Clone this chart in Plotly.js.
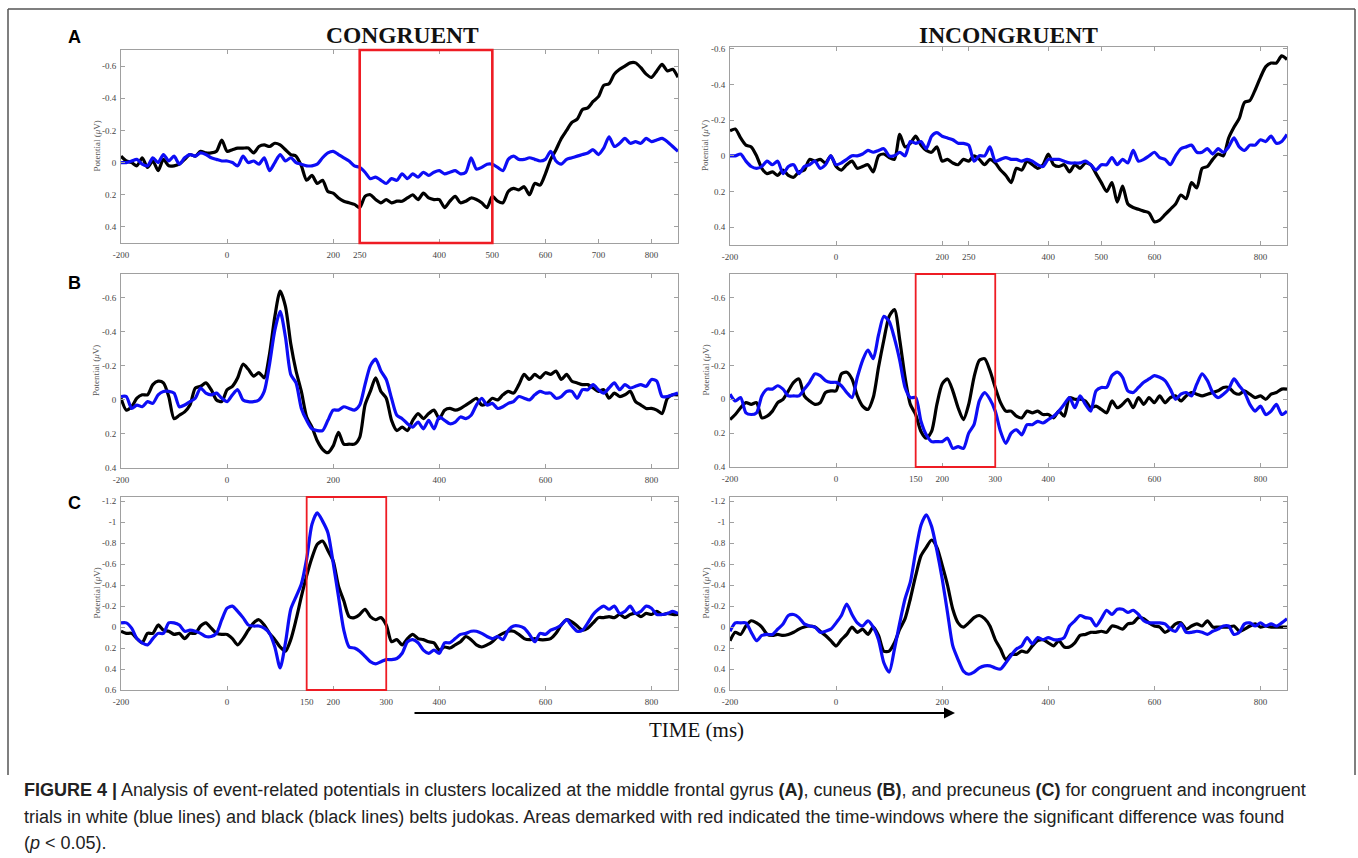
<!DOCTYPE html>
<html>
<head>
<meta charset="utf-8">
<script src="https://cdn.plot.ly/plotly-3.0.1.min.js"></script>
<style>
html,body{margin:0;padding:0;background:#fff;}
#chart{width:1358px;height:858px;}
</style>
</head>
<body>
<div id="chart"></div>
<script>
// ---- data ----
const timeMs = [-200,-190,-180,-170,-160,-150,-140,-130,-120,-110,
 -100,-90,-80,-70,-60,-50,-40,-30,-20,-10,
 0,10,20,30,40,50,60,70,80,90,
 100,110,120,130,140,150,160,170,180,190,
 200,210,220,230,240,250,260,270,280,290,
 300,310,320,330,340,350,360,370,380,390,
 400,410,420,430,440,450,460,470,480,490,
 500,510,520,530,540,550,560,570,580,590,
 600,610,620,630,640,650,660,670,680,690,
 700,710,720,730,740,750,760,770,780,790,
 800,810,820,830,840,850];

// A: middle frontal gyrus
const congA_black = [-0.04,-0.01,0.0,0.02,-0.03,0.03,-0.01,0.05,-0.02,0.02,
 0.02,0.01,-0.02,-0.05,-0.04,-0.07,-0.06,-0.06,-0.07,-0.14,
 -0.07,-0.08,-0.09,-0.09,-0.09,-0.06,-0.1,-0.11,-0.1,-0.12,
 -0.11,-0.08,-0.05,-0.04,0.02,0.11,0.08,0.13,0.11,0.18,
 0.19,0.22,0.24,0.25,0.26,0.28,0.21,0.20,0.23,0.25,
 0.23,0.25,0.24,0.24,0.22,0.20,0.23,0.19,0.22,0.23,
 0.23,0.28,0.24,0.21,0.25,0.24,0.22,0.23,0.25,0.28,
 0.21,0.24,0.25,0.18,0.16,0.17,0.15,0.20,0.13,0.14,
 0.07,-0.02,-0.08,-0.15,-0.20,-0.25,-0.27,-0.33,-0.34,-0.38,
 -0.41,-0.48,-0.49,-0.55,-0.58,-0.60,-0.62,-0.62,-0.59,-0.55,
 -0.53,-0.57,-0.61,-0.57,-0.58,-0.53];
const congA_blue = [0.0,0.0,-0.01,-0.02,0.01,0.02,-0.03,0.0,-0.05,-0.01,
 -0.04,0.01,-0.03,-0.05,-0.04,-0.06,-0.05,-0.03,-0.02,-0.01,
 -0.01,0.0,0.02,-0.04,0.0,-0.01,0.01,-0.03,0.05,0.0,
 -0.05,-0.01,-0.03,0.0,0.01,0.02,0.02,0.01,-0.03,-0.06,
 -0.07,-0.05,-0.03,-0.01,0.02,0.03,0.06,0.10,0.09,0.11,
 0.13,0.10,0.11,0.07,0.10,0.07,0.09,0.06,0.08,0.06,
 0.05,0.07,0.06,0.05,0.07,0.06,-0.03,0.04,0.03,0.01,
 0.01,0.03,0.05,-0.02,-0.04,-0.02,-0.02,-0.03,-0.02,-0.01,
 -0.02,-0.07,-0.01,0.01,-0.02,-0.03,-0.04,-0.05,-0.06,-0.08,
 -0.05,-0.09,-0.16,-0.10,-0.12,-0.15,-0.12,-0.13,-0.12,-0.15,
 -0.13,-0.14,-0.15,-0.13,-0.10,-0.07];
const incA_black = [-0.14,-0.15,-0.10,-0.06,-0.05,0.0,0.07,0.10,0.09,0.11,
 0.08,0.11,0.12,0.09,0.08,0.02,0.03,0.02,0.04,0.0,
 0.06,0.08,0.05,0.03,0.07,0.06,0.05,0.09,0.0,-0.01,
 0.01,0.02,-0.12,-0.05,-0.07,-0.11,-0.06,-0.03,-0.02,-0.05,
 0.03,0.02,0.04,0.05,0.02,0.03,0.0,0.02,0.05,0.02,
 0.04,0.08,0.11,0.15,0.07,0.08,0.03,0.05,0.07,0.05,
 -0.01,0.05,0.06,0.05,0.09,0.05,0.07,0.04,0.05,0.10,
 0.15,0.20,0.15,0.26,0.17,0.27,0.29,0.30,0.31,0.32,
 0.37,0.36,0.33,0.30,0.27,0.22,0.24,0.15,0.18,0.07,
 0.06,0.02,-0.01,0.0,-0.10,-0.16,-0.21,-0.30,-0.31,-0.37,
 -0.44,-0.50,-0.52,-0.52,-0.56,-0.54];
const incA_blue = [0.0,0.0,-0.01,0.03,0.06,0.07,0.06,0.03,0.05,0.03,
 0.10,0.06,0.05,0.10,0.06,0.05,0.03,0.07,0.05,0.0,
 0.05,0.04,0.02,0.0,0.0,-0.01,-0.03,-0.02,-0.03,-0.04,
 0.0,0.0,-0.02,0.0,-0.08,-0.07,-0.08,-0.04,-0.11,-0.13,
 -0.11,-0.10,-0.09,-0.07,-0.07,-0.06,0.03,0.0,0.0,-0.05,
 0.03,0.02,0.01,0.02,0.02,0.03,0.02,0.03,0.05,0.06,
 0.02,0.02,0.02,0.03,0.04,0.04,0.04,0.03,0.05,0.08,
 0.05,0.05,0.01,0.05,0.02,0.04,-0.03,0.03,0.02,0.0,
 -0.02,0.01,0.02,0.05,0.0,-0.04,-0.05,-0.06,-0.02,-0.02,
 -0.04,-0.01,-0.04,-0.02,-0.05,-0.10,-0.05,-0.03,-0.06,-0.06,
 -0.09,-0.08,-0.11,-0.07,-0.08,-0.12];

// B: cuneus
const congB_black = [-0.01,0.06,0.04,-0.01,-0.03,-0.03,-0.09,-0.11,-0.10,-0.02,
 0.11,0.09,0.07,0.03,-0.07,-0.08,-0.10,-0.06,0.0,0.01,
 -0.06,-0.08,-0.13,-0.21,-0.18,-0.14,-0.16,-0.13,-0.27,-0.49,
 -0.64,-0.55,-0.33,-0.17,-0.05,0.10,0.16,0.24,0.29,0.31,
 0.27,0.19,0.26,0.26,0.26,0.22,0.03,-0.05,-0.13,-0.05,
 -0.01,0.12,0.18,0.16,0.18,0.12,0.08,0.11,0.08,0.06,
 0.11,0.06,0.05,0.06,0.05,0.03,0.01,-0.01,0.03,0.02,
 -0.01,0.0,-0.03,-0.05,-0.04,-0.09,-0.15,-0.12,-0.15,-0.13,
 -0.16,-0.15,-0.17,-0.12,-0.15,-0.11,-0.10,-0.09,-0.09,-0.07,
 -0.05,-0.06,-0.01,-0.04,-0.02,-0.03,-0.05,0.01,0.03,0.05,
 0.05,0.06,0.08,-0.01,-0.03,-0.03];
const congB_blue = [-0.02,-0.02,0.05,0.03,0.04,0.01,0.02,-0.03,-0.05,-0.05,
 -0.04,0.04,0.03,0.01,-0.01,-0.07,-0.04,-0.03,-0.04,-0.01,
 0.01,-0.03,-0.06,0.0,0.01,0.01,0.0,-0.05,-0.21,-0.41,
 -0.52,-0.37,-0.15,-0.10,0.05,0.12,0.17,0.18,0.18,0.12,
 0.06,0.06,0.04,0.05,0.06,0.03,-0.09,-0.20,-0.24,-0.17,
 -0.12,-0.01,0.09,0.11,0.14,0.16,0.13,0.17,0.12,0.17,
 0.10,0.12,0.14,0.13,0.10,0.11,0.09,0.03,-0.01,0.03,
 0.02,0.05,0.04,0.02,0.01,-0.02,-0.01,0.0,-0.03,-0.05,
 -0.04,-0.04,-0.01,-0.02,-0.05,-0.05,-0.01,-0.06,-0.06,-0.09,
 -0.06,-0.04,-0.07,-0.10,-0.06,-0.09,-0.07,-0.08,-0.09,-0.08,
 -0.12,-0.11,-0.02,-0.02,-0.03,-0.04];
const incB_black = [0.12,0.09,0.05,0.02,0.03,0.02,0.11,0.10,0.07,0.02,
 0.0,-0.05,-0.10,-0.12,-0.02,0.01,0.03,0.02,-0.04,-0.05,
 -0.05,-0.15,-0.16,-0.12,-0.02,0.04,0.06,-0.01,-0.19,-0.35,
 -0.49,-0.53,-0.35,-0.13,0.03,0.09,0.19,0.23,0.19,0.03,
 -0.09,-0.12,-0.05,0.05,0.12,0.03,-0.13,-0.23,-0.24,-0.17,
 -0.07,0.02,0.07,0.07,0.10,0.11,0.07,0.08,0.07,0.09,
 0.09,0.11,0.07,0.10,-0.01,0.0,0.0,0.01,0.05,0.04,
 0.06,0.08,0.01,0.05,0.03,0.0,0.05,-0.01,0.03,-0.01,
 0.02,-0.02,0.02,-0.01,-0.02,0.01,-0.02,-0.04,-0.03,-0.02,
 -0.03,-0.04,-0.05,-0.07,-0.07,-0.04,-0.03,-0.05,-0.03,-0.01,
 -0.02,0.0,-0.03,-0.04,-0.06,-0.06];
const incB_blue = [-0.03,0.01,-0.01,0.08,0.09,0.08,-0.02,-0.06,-0.06,-0.08,
 -0.06,-0.02,-0.02,-0.02,-0.06,-0.10,-0.15,-0.14,-0.11,-0.10,
 -0.10,-0.08,-0.04,-0.01,-0.13,-0.23,-0.29,-0.24,-0.38,-0.49,
 -0.46,-0.36,-0.23,-0.07,-0.01,-0.01,0.13,0.21,0.25,0.25,
 0.25,0.23,0.29,0.28,0.29,0.20,0.15,0.01,-0.04,0.0,
 0.07,0.19,0.26,0.20,0.18,0.21,0.15,0.15,0.13,0.14,
 0.12,0.10,0.07,0.03,-0.01,0.05,-0.02,0.03,0.07,-0.05,
 -0.07,-0.07,-0.14,-0.16,-0.13,-0.05,-0.04,-0.07,-0.10,-0.12,
 -0.14,-0.13,-0.11,-0.06,0.0,-0.03,-0.04,-0.02,-0.09,-0.15,
 -0.11,-0.04,-0.01,-0.03,-0.06,-0.12,-0.08,-0.04,0.03,0.07,
 0.04,0.09,0.07,0.03,0.09,0.07];

// C: precuneus
const congC_black = [0.04,0.06,0.06,0.11,0.15,0.06,0.06,-0.02,0.03,0.04,
 0.07,0.06,0.11,0.06,0.06,-0.01,-0.04,0.01,0.06,0.07,
 0.07,0.11,0.17,0.11,0.03,-0.04,-0.07,-0.02,0.06,0.12,
 0.19,0.23,0.12,-0.07,-0.29,-0.49,-0.66,-0.79,-0.82,-0.73,
 -0.63,-0.39,-0.25,-0.10,-0.09,-0.12,-0.17,-0.10,-0.07,-0.09,
 -0.02,0.14,0.12,0.17,0.11,0.07,0.11,0.12,0.14,0.15,
 0.22,0.19,0.20,0.17,0.14,0.09,0.12,0.17,0.19,0.17,
 0.14,0.09,0.06,0.04,0.04,0.07,0.11,0.12,0.11,0.12,
 0.12,0.11,0.06,-0.02,-0.07,-0.05,-0.01,0.03,0.01,-0.04,
 -0.09,-0.09,-0.10,-0.09,-0.12,-0.09,-0.12,-0.13,-0.10,-0.13,
 -0.12,-0.15,-0.12,-0.13,-0.12,-0.12];
const congC_blue = [-0.04,-0.04,0.01,0.11,0.15,0.17,0.11,0.06,0.06,-0.04,
 -0.04,-0.02,0.04,0.03,0.04,0.06,0.09,0.09,0.06,-0.07,
 -0.18,-0.20,-0.15,-0.09,-0.02,-0.01,-0.01,0.01,0.06,0.19,
 0.39,0.15,-0.17,-0.29,-0.41,-0.65,-0.98,-1.09,-1.01,-0.90,
 -0.61,-0.29,0.03,0.19,0.20,0.23,0.28,0.33,0.35,0.33,
 0.31,0.31,0.30,0.25,0.14,0.12,0.15,0.22,0.25,0.22,
 0.25,0.15,0.15,0.11,0.07,0.06,0.04,0.04,0.06,0.09,
 0.11,0.09,0.12,0.03,-0.01,-0.01,0.01,0.07,0.14,0.06,
 0.07,0.03,0.01,-0.02,-0.07,-0.01,0.04,0.03,-0.04,-0.12,
 -0.17,-0.20,-0.17,-0.20,-0.13,-0.15,-0.20,-0.13,-0.15,-0.20,
 -0.18,-0.12,-0.12,-0.13,-0.15,-0.13];
const incC_black = [0.13,0.05,0.07,-0.01,-0.06,-0.04,0.0,0.07,0.08,0.07,
 0.08,0.07,0.05,0.02,0.0,-0.01,0.0,0.04,0.08,0.13,
 0.18,0.12,0.07,0.0,0.05,0.02,0.07,0.0,0.08,0.23,
 0.23,0.15,0.02,-0.08,-0.27,-0.49,-0.68,-0.76,-0.83,-0.76,
 -0.59,-0.40,-0.17,-0.04,0.0,-0.04,-0.09,-0.11,-0.08,-0.01,
 0.12,0.21,0.31,0.26,0.26,0.23,0.24,0.18,0.13,0.12,
 0.15,0.18,0.13,0.19,0.19,0.15,0.08,0.07,0.05,0.05,
 0.04,0.05,-0.01,0.0,0.02,-0.03,-0.04,-0.09,-0.08,-0.04,
 -0.01,0.0,0.05,0.02,-0.03,-0.04,0.02,-0.01,-0.03,-0.01,
 -0.06,0.0,0.0,0.0,0.0,-0.01,0.04,0.02,-0.01,-0.03,
 0.0,-0.01,0.0,0.0,0.0,0.0];
const incC_blue = [0.04,-0.04,-0.04,-0.04,0.05,0.13,0.08,0.07,0.07,0.02,
 -0.03,-0.11,-0.12,-0.09,-0.03,-0.01,0.0,0.05,0.04,0.02,
 -0.04,-0.11,-0.22,-0.12,-0.04,-0.01,-0.06,0.0,0.12,0.34,
 0.43,0.21,-0.04,-0.27,-0.43,-0.72,-0.97,-1.07,-0.96,-0.73,
 -0.46,-0.14,0.18,0.31,0.42,0.45,0.43,0.39,0.37,0.37,
 0.39,0.40,0.34,0.27,0.21,0.18,0.10,0.16,0.10,0.12,
 0.10,0.12,0.12,0.10,-0.01,-0.06,-0.11,-0.09,-0.08,-0.01,
 -0.08,-0.16,-0.12,-0.17,-0.17,-0.14,-0.16,-0.12,-0.06,-0.04,
 -0.04,-0.04,-0.03,0.02,0.04,-0.03,0.05,0.05,0.04,0.05,
 0.07,0.04,0.02,-0.01,-0.01,0.07,0.05,-0.03,-0.04,-0.01,
 -0.04,-0.01,-0.03,-0.01,-0.04,-0.08];

// tick labels
const xTicksAL = [-200,0,200,250,400,500,600,700,800];
const xTicksAR = [-200,0,200,250,400,500,600,800];
const xTicksBL = [-200,0,200,400,600,800];
const xTicksBR = [-200,0,150,200,300,400,600,800];
const xTicksCL = [-200,0,150,200,300,400,600,800];
const xTicksCR = [-200,0,200,400,600,800];
const yTicksAB = [-0.6,-0.4,-0.2,0,0.2,0.4];
const yTicksC = [-1.2,-1,-0.8,-0.6,-0.4,-0.2,0,0.2,0.4,0.6];

// significant windows (ms)
const sigWindows = [{panel:1, from:250, to:500}, {panel:4, from:150, to:300}, {panel:5, from:150, to:300}];

const columnTitles = ['CONGRUENT', 'INCONGRUENT'];
const panelLetters = ['A', 'B', 'C'];
const yTitle = 'Potential (<i>μ</i>V)';
const xTitle = 'TIME (ms)';

// ---- layout helpers ----
const W = 1358, H = 858;
const px = v => v / W;
const py = v => 1 - v / H;

const panels = [
  {black: congA_black, blue: congA_blue, xt: xTicksAL, yt: yTicksAB, yr: [0.5, -0.7],  x0: 121, x1: 678,  y0: 50,  y1: 243},
  {black: incA_black,  blue: incA_blue,  xt: xTicksAR, yt: yTicksAB, yr: [0.5, -0.61], x0: 730, x1: 1287, y0: 47,  y1: 245},
  {black: congB_black, blue: congB_blue, xt: xTicksBL, yt: yTicksAB, yr: [0.4, -0.74], x0: 121, x1: 678,  y0: 274, y1: 468},
  {black: incB_black,  blue: incB_blue,  xt: xTicksBR, yt: yTicksAB, yr: [0.4, -0.74], x0: 730, x1: 1287, y0: 274, y1: 467},
  {black: congC_black, blue: congC_blue, xt: xTicksCL, yt: yTicksC,  yr: [0.6, -1.24], x0: 121, x1: 678,  y0: 497, y1: 690},
  {black: incC_black,  blue: incC_blue,  xt: xTicksCR, yt: yTicksC,  yr: [0.6, -1.24], x0: 730, x1: 1287, y0: 497, y1: 690}
];

const fmt = v => String(v);
const traces = [];
const layout = {
  width: W, height: H,
  margin: {l: 0, r: 0, t: 0, b: 0},
  paper_bgcolor: '#ffffff', plot_bgcolor: '#ffffff',
  showlegend: false,
  font: {family: 'Liberation Serif, Times New Roman, serif', color: '#444'},
  shapes: [], annotations: []
};

panels.forEach((p, i) => {
  const n = i + 1;
  const xa = n === 1 ? 'x' : 'x' + n;
  const ya = n === 1 ? 'y' : 'y' + n;
  traces.push({x: timeMs, y: p.black, xaxis: xa, yaxis: ya, type: 'scatter', mode: 'lines',
    line: {color: '#000000', width: 3.2, shape: 'spline', smoothing: 0.7}, hoverinfo: 'skip'});
  traces.push({x: timeMs, y: p.blue, xaxis: xa, yaxis: ya, type: 'scatter', mode: 'lines',
    line: {color: '#0d0df5', width: 3.2, shape: 'spline', smoothing: 0.7}, hoverinfo: 'skip'});
  const axCommon = {
    showline: true, mirror: 'ticks', linecolor: '#a0a0a0', linewidth: 1,
    ticks: 'inside', ticklen: 4, tickcolor: '#a0a0a0', tickwidth: 1,
    showgrid: false, zeroline: false, fixedrange: true,
    tickfont: {family: 'Liberation Serif, Times New Roman, serif', size: 9, color: '#444'}
  };
  layout['xaxis' + (n === 1 ? '' : n)] = Object.assign({}, axCommon, {
    domain: [px(p.x0), px(p.x1)], anchor: ya, range: [-200, 850],
    tickmode: 'array', tickvals: p.xt, ticktext: p.xt.map(fmt), ticklabelstandoff: 3
  });
  layout['yaxis' + (n === 1 ? '' : n)] = Object.assign({}, axCommon, {
    domain: [py(p.y1), py(p.y0)], anchor: xa, range: p.yr,
    tickmode: 'array', tickvals: p.yt, ticktext: p.yt.map(fmt), ticklabelstandoff: 2
  });
  // y axis title
  layout.annotations.push({xref: 'paper', yref: 'paper', x: px(p.x0 - 25), y: py((p.y0 + p.y1) / 2),
    text: yTitle, textangle: -90, showarrow: false, xanchor: 'center', yanchor: 'middle',
    font: {family: 'Liberation Serif, Times New Roman, serif', size: 9, color: '#555'}});
});

sigWindows.forEach(w => {
  const n = w.panel;
  layout.shapes.push({type: 'rect', xref: n === 1 ? 'x' : 'x' + n, yref: (n === 1 ? 'y' : 'y' + n) + ' domain',
    x0: w.from, x1: w.to, y0: 0, y1: 1, line: {color: '#ee1c24', width: n === 1 ? 2.6 : 1.8}, fillcolor: 'rgba(0,0,0,0)'});
});

// outer frame (left, top, right)
layout.shapes.push({type: 'line', xref: 'paper', yref: 'paper', x0: px(8), x1: px(8), y0: py(775), y1: py(9), line: {color: '#555', width: 1.5}});
layout.shapes.push({type: 'line', xref: 'paper', yref: 'paper', x0: px(8), x1: px(1355), y0: py(9), y1: py(9), line: {color: '#555', width: 1.5}});
layout.shapes.push({type: 'line', xref: 'paper', yref: 'paper', x0: px(1355), x1: px(1355), y0: py(775), y1: py(9), line: {color: '#555', width: 1.5}});

// column titles
layout.annotations.push({xref: 'paper', yref: 'paper', x: px(402), y: py(35), text: '<b>' + columnTitles[0] + '</b>',
  showarrow: false, xanchor: 'center', yanchor: 'middle', font: {family: 'Liberation Serif, Times New Roman, serif', size: 23.5, color: '#111'}});
layout.annotations.push({xref: 'paper', yref: 'paper', x: px(1008), y: py(35), text: '<b>' + columnTitles[1] + '</b>',
  showarrow: false, xanchor: 'center', yanchor: 'middle', font: {family: 'Liberation Serif, Times New Roman, serif', size: 23.5, color: '#111'}});

// panel letters
[37, 283, 503].forEach((yy, k) => {
  layout.annotations.push({xref: 'paper', yref: 'paper', x: px(74), y: py(yy), text: '<b>' + panelLetters[k] + '</b>',
    showarrow: false, xanchor: 'center', yanchor: 'middle', font: {family: 'Liberation Sans, Arial, sans-serif', size: 18, color: '#000'}});
});

// time arrow + label
layout.annotations.push({xref: 'paper', yref: 'paper', x: px(955), y: py(713), ax: -542, ay: 0, text: '',
  showarrow: true, arrowhead: 2, arrowsize: 1, arrowwidth: 2.2, arrowcolor: '#000'});
layout.annotations.push({xref: 'paper', yref: 'paper', x: px(697), y: py(730), text: xTitle,
  showarrow: false, xanchor: 'center', yanchor: 'middle', font: {family: 'Liberation Serif, Times New Roman, serif', size: 21, color: '#111'}});

// caption
const captionLines = [
  '<b>FIGURE 4 |</b> Analysis of event-related potentials in clusters localized at the middle frontal gyrus <b>(A)</b>, cuneus <b>(B)</b>, and precuneus <b>(C)</b> for congruent and incongruent',
  'trials in white (blue lines) and black (black lines) belts judokas. Areas demarked with red indicated the time-windows where the significant difference was found',
  '(<i>p</i> &lt; 0.05).'
];
[790, 817, 843].forEach((yy, k) => {
  layout.annotations.push({xref: 'paper', yref: 'paper', x: px(22), y: py(yy), text: captionLines[k],
    showarrow: false, xanchor: 'left', yanchor: 'middle', align: 'left',
    font: {family: 'Liberation Sans, Arial, sans-serif', size: 18, color: '#222'}});
});

Plotly.newPlot('chart', traces, layout, {displayModeBar: false, staticPlot: true});
</script>
</body>
</html>
